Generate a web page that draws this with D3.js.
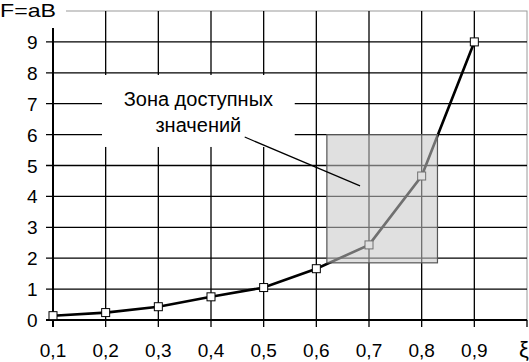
<!DOCTYPE html>
<html>
<head>
<meta charset="utf-8">
<script src="https://cdn.jsdelivr.net/npm/d3@7"></script>
<style>
  body { margin: 0; background: #fff; }
  text { font-family: "Liberation Sans", Arial, sans-serif; fill: #000; }
</style>
</head>
<body>
<script>
const m = { width: 529, height: 362 }

// values
const xi = [0.1, 0.2, 0.3, 0.4, 0.5, 0.6, 0.7, 0.8, 0.9]
const F = [0.14, 0.24, 0.43, 0.75, 1.05, 1.66, 2.43, 4.66, 9.0]
const xTicks = [0.1, 0.2, 0.3, 0.4, 0.5, 0.6, 0.7, 0.8, 0.9]
const yTicks = [0, 1, 2, 3, 4, 5, 6, 7, 8, 9]
const zoneX = [0.62, 0.83]
const zoneY = [1.85, 6]
const labelLines = ['Зона доступных', 'значений']

const svg = d3.select('body').append('svg')
  .attr('width', m.width)
  .attr('height', m.height)

const x = d3.scaleLinear().domain([0.1, 1.0]).range([53, 527])
const y = d3.scaleLinear().domain([0, 10]).range([320, 11])

const fmt = d => d3.format('.1f')(d).replace('.', ',')

// plot border (light)
svg.append('rect')
  .attr('x', x(0.1)).attr('y', y(10))
  .attr('width', x(1.0) - x(0.1)).attr('height', y(0) - y(10))
  .attr('fill', 'none').attr('stroke', '#9a9a9a').attr('stroke-width', 1)

// grid + tick marks
svg.append('g')
  .selectAll('line')
  .data(yTicks.filter(d => d > 0))
  .enter().append('line')
    .attr('x1', x(0.1) - 7).attr('x2', x(1.0))
    .attr('y1', d => y(d)).attr('y2', d => y(d))
    .attr('stroke', '#000').attr('stroke-width', 1.3)

svg.append('g')
  .selectAll('line')
  .data(xTicks.filter(d => d > 0.1))
  .enter().append('line')
    .attr('x1', d => x(d)).attr('x2', d => x(d))
    .attr('y1', y(10)).attr('y2', y(0) + 7)
    .attr('stroke', '#000').attr('stroke-width', 1.3)

// axes
svg.append('line')
  .attr('x1', x(0.1) - 7).attr('x2', x(1.0))
  .attr('y1', y(0)).attr('y2', y(0))
  .attr('stroke', '#000').attr('stroke-width', 2)
svg.append('line')
  .attr('x1', x(0.1)).attr('x2', x(0.1))
  .attr('y1', y(10)).attr('y2', y(0) + 7)
  .attr('stroke', '#000').attr('stroke-width', 2)
svg.append('line')
  .attr('x1', x(1.0)).attr('x2', x(1.0))
  .attr('y1', y(0)).attr('y2', y(0) + 7)
  .attr('stroke', '#000').attr('stroke-width', 1.3)

// tick labels
svg.append('g')
  .selectAll('text')
  .data(yTicks)
  .enter().append('text')
    .attr('x', 37.5).attr('y', d => y(d) + 7)
    .attr('text-anchor', 'end')
    .attr('font-size', 19)
    .text(d => d)

svg.append('g')
  .selectAll('text')
  .data(xTicks)
  .enter().append('text')
    .attr('x', d => x(d)).attr('y', 357)
    .attr('text-anchor', 'middle')
    .attr('font-size', 19)
    .text(fmt)

svg.append('text')
  .attr('x', x(1.0) - 3).attr('y', 357)
  .attr('text-anchor', 'middle')
  .attr('font-size', 22)
  .text('ξ')

// y title over a white patch
svg.append('rect')
  .attr('x', 0).attr('y', 0).attr('width', 66).attr('height', 28)
  .attr('fill', '#fff')
svg.append('text')
  .attr('x', 0).attr('y', 16.5)
  .attr('font-size', 19)
  .attr('textLength', 56)
  .attr('lengthAdjust', 'spacingAndGlyphs')
  .text('F=aB')

// series
const line = d3.line()
  .x((d, i) => x(xi[i]))
  .y(d => y(d))

svg.append('path')
  .datum(F)
  .attr('d', line)
  .attr('fill', 'none')
  .attr('stroke', '#000')
  .attr('stroke-width', 2.6)

svg.selectAll('.pt')
  .data(F)
  .enter().append('rect')
    .attr('class', 'pt')
    .attr('x', (d, i) => x(xi[i]) - 4)
    .attr('y', d => y(d) - 4)
    .attr('width', 8).attr('height', 8)
    .attr('fill', '#fff')
    .attr('stroke', '#000').attr('stroke-width', 1)

// zone of available values (overlay)
svg.append('rect')
  .attr('x', x(zoneX[0])).attr('y', y(zoneY[1]))
  .attr('width', x(zoneX[1]) - x(zoneX[0]))
  .attr('height', y(zoneY[0]) - y(zoneY[1]))
  .attr('fill', '#c8c8c8').attr('fill-opacity', 0.56)
  .attr('stroke', '#555').attr('stroke-width', 1.2)

// callout
svg.append('rect')
  .attr('x', x(0.193)).attr('y', y(7.93))
  .attr('width', x(0.559) - x(0.193))
  .attr('height', y(5.6) - y(7.93))
  .attr('fill', '#fff')

svg.append('line')
  .attr('x1', x(0.464)).attr('y1', y(5.92))
  .attr('x2', x(0.683)).attr('y2', y(4.34))
  .attr('stroke', '#000').attr('stroke-width', 1.2)

svg.append('g')
  .selectAll('text')
  .data(labelLines)
  .enter().append('text')
    .attr('x', x(0.376))
    .attr('y', (d, i) => y(6.93) + i * 26)
    .attr('text-anchor', 'middle')
    .attr('font-size', 20)
    .text(d => d)
</script>
</body>
</html>
